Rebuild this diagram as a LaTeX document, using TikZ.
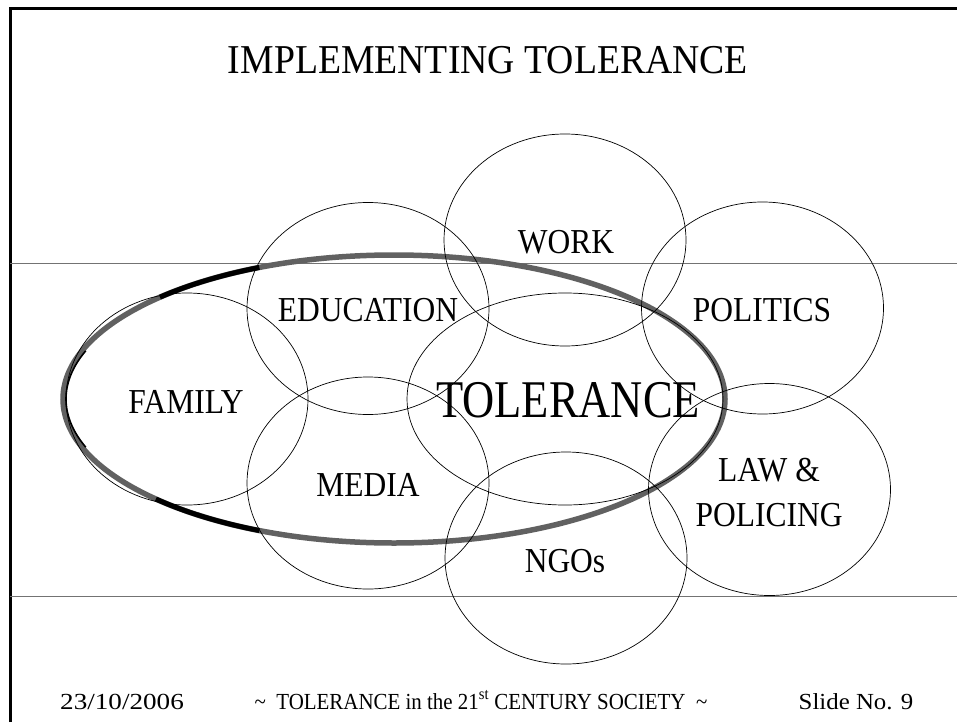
\documentclass[tikz,border=0pt]{standalone}
\usepackage{fontspec}
\setmainfont{Liberation Serif}
\usetikzlibrary{shapes.geometric}
\newcommand{\labx}[1]{\scalebox{0.9}[1]{#1}}
\begin{document}
\begin{tikzpicture}[x=1pt,y=-1pt,
  ring/.style={draw=black, line width=0.7pt, ellipse, inner sep=0pt,
    minimum width=242pt, minimum height=212pt},
  lab/.style={inner sep=0pt, align=center, font=\fontsize{35}{45}\selectfont},
  foot/.style={inner sep=0pt, anchor=base, font=\fontsize{23}{26}\selectfont},
  band/.style={line width=0.9pt, black!55}
]
\useasboundingbox (0,0) rectangle (957,722);
% frame
\draw[line width=3pt] (10,722) -- (10,9) -- (957,9);
\draw[band] (10,263) -- (957,263);
\draw[band] (10,596) -- (957,596);
% title
\node[inner sep=0pt, anchor=base, font=\fontsize{41}{48}\selectfont] (title) at (488,74)
  {\scalebox{0.92}[1]{IMPLEMENTING TOLERANCE}};
% big ellipse
\node[ellipse, draw=black!62, line width=5.5pt, inner sep=0pt,
  minimum width=662pt, minimum height=288pt] (big) at (394,399) {};
\draw[line width=5pt, black] (394,399) ++(114:331pt and 144pt)
  arc[start angle=114, end angle=135, x radius=331pt, y radius=144pt];
\draw[line width=5pt, black] (394,399) ++(224:331pt and 144pt)
  arc[start angle=224, end angle=246, x radius=331pt, y radius=144pt];
\draw[line width=1.6pt, black] (394,399) ++(160:328pt and 141pt)
  arc[start angle=160, end angle=200, x radius=328pt, y radius=141pt];
% rings
\node[ring] (workR) at (565,240) {};
\node[ring] (eduR) at (368,308.5) {};
\node[ring] (polR) at (762.5,308) {};
\node[ring] (famR) at (187,399) {};
\node[ring, minimum width=316pt] (tolR) at (565,399) {};
\node[ring] (medR) at (368,483) {};
\node[ring] (lawR) at (769.5,489.5) {};
\node[ring] (ngoR) at (566,558) {};
% labels
\node[lab] (work) at (566,242.5) {\labx{WORK}};
\node[lab] (edu) at (368,310.5) {\labx{EDUCATION}};
\node[lab] (pol) at (762,310.5) {\labx{POLITICS}};
\node[lab] (fam) at (186,402) {\labx{FAMILY}};
\node[lab, font=\fontsize{53}{60}\selectfont] (tol) at (568,400.5) {\scalebox{0.84}[1]{TOLERANCE}};
\node[lab] (med) at (368,485) {\labx{MEDIA}};
\node[lab] (law) at (769,492.5) {\labx{LAW \&}\\\labx{POLICING}};
\node[lab] (ngo) at (565,561) {\labx{NGOs}};
% footer
\node[foot] (date) at (122,709) {\scalebox{1.18}[1]{23/10/2006}};
\node[foot] (mid) at (481,709) {\scalebox{0.91}[1]{\textasciitilde\ \ TOLERANCE in the 21\textsuperscript{st} CENTURY SOCIETY \ \textasciitilde}};
\node[foot] (slide) at (856,709) {\scalebox{1.08}[1]{Slide No. 9}};
\end{tikzpicture}
\end{document}
